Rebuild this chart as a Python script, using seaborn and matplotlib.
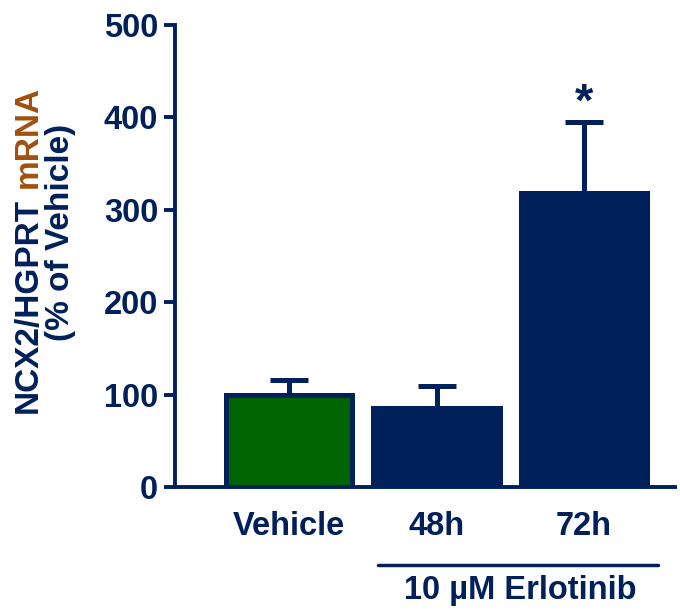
"""
NCX2/HGPRT mRNA after erlotinib treatment - bar chart with SEM
Output: out.png
"""

import matplotlib
matplotlib.use('Agg')
import matplotlib.pyplot as plt
import matplotlib.transforms as mtransforms
import numpy as np
import pandas as pd
import seaborn as sns

sns.set_style('ticks')
plt.rcParams['font.family'] = ['Liberation Sans', 'DejaVu Sans']
plt.rcParams['font.weight'] = 'bold'

NAVY = '#00205b'
GREEN = '#006400'
BROWN = '#a0500f'

# data
groups = ['Vehicle', '48h', '72h']
means = [100, 86, 318]
sem = [16, 23, 77]
bar_colors = [GREEN, NAVY, NAVY]
signif = ['', '', '*']


def create_chart():
    fig = plt.figure(figsize=(6.8, 6.09), dpi=100)
    ax = fig.add_axes([175 / 680, 122 / 609, 500 / 680, 462 / 609])

    df = pd.DataFrame({'group': groups, 'value': means})
    sns.barplot(data=df, x='group', y='value', hue='group', palette=bar_colors,
                width=0.86, edgecolor=NAVY, linewidth=3.6, saturation=1,
                legend=False, ax=ax, zorder=2)

    x = np.arange(len(groups))
    ax.errorbar(x, means, yerr=[np.zeros(len(sem)), sem], fmt='none',
                ecolor=NAVY, elinewidth=3.6, capsize=14, capthick=3.6, zorder=1)

    for xi, m, s, lab in zip(x, means, sem, signif):
        if lab:
            ax.text(xi, m + s - 4, lab, ha='center', va='bottom', fontsize=34,
                    fontweight='bold', color=NAVY)

    ax.set_ylim(0, 500)
    ax.set_yticks([0, 100, 200, 300, 400, 500])
    ax.set_xlim(-0.773, 2.617)
    ax.set_xlabel('')
    ax.set_ylabel('')

    for side in ['top', 'right']:
        ax.spines[side].set_visible(False)
    for side in ['left', 'bottom']:
        ax.spines[side].set_linewidth(2.8)
        ax.spines[side].set_color(NAVY)

    ax.tick_params(axis='y', length=8, width=2.8, color=NAVY, labelcolor=NAVY,
                   labelsize=23.5, pad=4)
    ax.tick_params(axis='x', length=0, labelcolor=NAVY, labelsize=23.5, pad=17)
    for t in ax.get_xticklabels() + ax.get_yticklabels():
        t.set_fontweight('bold')

    # treatment bracket under 48h / 72h
    trans = mtransforms.blended_transform_factory(ax.transData, fig.transFigure)
    ax.plot([0.60, 2.50], [44 / 609, 44 / 609], color=NAVY, lw=2.5,
            transform=trans, clip_on=False)
    ax.text(1.57, 19 / 609, '10 µM Erlotinib', ha='center', va='center',
            fontsize=23.5, fontweight='bold', color=NAVY, transform=trans)

    # y label, two lines, with 'mRNA' in brown
    fig.text(28 / 680, 1 - 413 / 609, 'NCX2/HGPRT', rotation=90, ha='center',
             va='bottom', fontsize=24, fontweight='bold', color=NAVY)
    fig.text(28 / 680, 1 - 188 / 609, 'mRNA', rotation=90, ha='center',
             va='bottom', fontsize=24, fontweight='bold', color=BROWN)
    fig.text(61 / 680, 1 - 232 / 609, '(% of Vehicle)', rotation=90, ha='center',
             va='center', fontsize=24, fontweight='bold', color=NAVY)

    fig.savefig('out.png', dpi=100)
    plt.close(fig)


if __name__ == '__main__':
    create_chart()
